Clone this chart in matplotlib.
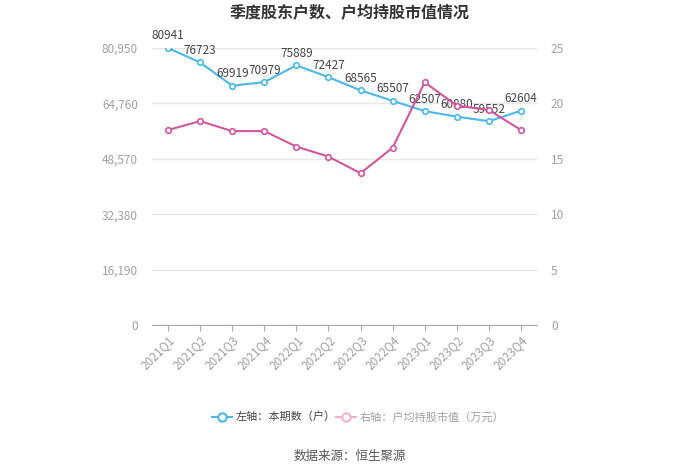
import matplotlib.pyplot as plt
import numpy as np

plt.rcParams['font.family'] = ['Noto Sans CJK SC', 'DejaVu Sans']

# ===============================
# DATA
# ===============================
quarters = ['2021Q1', '2021Q2', '2021Q3', '2021Q4', '2022Q1', '2022Q2',
            '2022Q3', '2022Q4', '2023Q1', '2023Q2', '2023Q3', '2023Q4']
holders = [80941, 76723, 69919, 70979, 75889, 72427,
           68565, 65507, 62507, 60880, 59552, 62604]
avg_value = [17.6, 18.4, 17.5, 17.5, 16.1, 15.2,
             13.7, 16.0, 21.9, 19.8, 19.4, 17.6]
left_ticks = [0, 16190, 32380, 48570, 64760, 80950]
right_ticks = [0, 5, 10, 15, 20, 25]

blue = '#4cb8e8'
pink = '#d0579f'
grey_txt = '#a0a0a0'

# ===============================
# FIGURE
# ===============================
fig = plt.figure(figsize=(7, 4.73), dpi=100)
ax = fig.add_axes([152 / 700, 1 - 325 / 473, (537 - 152) / 700, (325 - 48) / 473])
ax2 = ax.twinx()

x = np.arange(len(quarters))
ax.plot(x, holders, color=blue, lw=1.5, marker='o', ms=4,
        mfc='white', mec=blue, mew=1.2, zorder=3)
ax2.plot(x, avg_value, color=pink, lw=1.5, marker='o', ms=4,
         mfc='white', mec=pink, mew=1.2, zorder=3)

for xi, v in zip(x, holders):
    ax.annotate(str(v), (xi, v), xytext=(0, 4), textcoords='offset points',
                ha='center', va='bottom', fontsize=8.5, color='#444444', zorder=5)

ax.set_xlim(-0.5, len(quarters) - 0.5)
ax.set_ylim(0, 80950)
ax2.set_ylim(0, 25)
ax.set_yticks(left_ticks)
ax.set_yticklabels([f'{t:,}' for t in left_ticks])
ax2.set_yticks(right_ticks)

ax.set_xticks(x)
ax.set_xticklabels(quarters, rotation=45, ha='right', rotation_mode='anchor')

for a in (ax, ax2):
    for s in a.spines.values():
        s.set_visible(False)
    a.tick_params(axis='y', length=0, labelsize=8.5, labelcolor=grey_txt, pad=10)
ax.spines['bottom'].set_visible(True)
ax.spines['bottom'].set_color('#aaaaaa')
ax.tick_params(axis='x', length=4, color='#aaaaaa', labelsize=8.5,
               labelcolor=grey_txt, pad=2)
ax.grid(axis='y', color='#e8e8e8', lw=1)
ax.set_axisbelow(True)

fig.text(0.5, 1 - 13 / 473, '季度股东户数、户均持股市值情况', ha='center', va='center',
         fontsize=11.5, fontweight='bold', color='#333333')

# legend
ly = 1 - 417 / 473
fig.add_artist(plt.Line2D([212 / 700, 232 / 700], [ly, ly], transform=fig.transFigure,
                          color=blue, lw=1.5))
fig.add_artist(plt.Line2D([222 / 700], [ly], transform=fig.transFigure,
                          color=blue, marker='o', ms=6, mfc='white', mec=blue, mew=1.5))
fig.text(236 / 700, ly, '左轴：本期数（户）', ha='left', va='center', fontsize=8, color='#444444')
fig.add_artist(plt.Line2D([336 / 700, 356 / 700], [ly, ly], transform=fig.transFigure,
                          color='#f0b0d0', lw=1.5))
fig.add_artist(plt.Line2D([346 / 700], [ly], transform=fig.transFigure,
                          color='#f0b0d0', marker='o', ms=6, mfc='white', mec='#f0b0d0', mew=1.5))
fig.text(360 / 700, ly, '右轴：户均持股市值（万元）', ha='left', va='center', fontsize=8, color=grey_txt)

fig.text(0.5, 1 - 456 / 473, '数据来源：恒生聚源', ha='center', va='center',
         fontsize=9, color='#555555')

fig.savefig('out.png', dpi=100, facecolor='white')
